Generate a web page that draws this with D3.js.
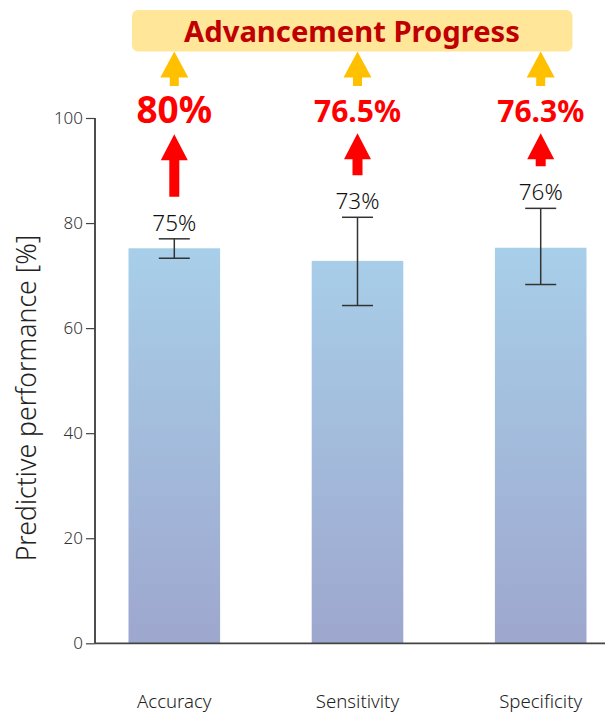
<!DOCTYPE html>
<html>
<head>
<meta charset="utf-8">
<script src="https://cdn.jsdelivr.net/npm/d3@7"></script>
<style>
  html, body { margin: 0; padding: 0; background: #fff; }
  svg { display: block; font-family: "Noto Sans", "Open Sans", sans-serif; }
</style>
</head>
<body>
<svg id="chart" width="605" height="713"></svg>
<script>
const categories = ["Accuracy", "Sensitivity", "Specificity"];
const values = [75.2, 72.8, 75.3];
const errLow = [73.3, 64.3, 68.3];
const errHigh = [77.0, 81.1, 82.8];
const barLabels = ["75%", "73%", "76%"];
const targetLabels = ["80%", "76.5%", "76.3%"];
const yTicks = [0, 20, 40, 60, 80, 100];
const bannerTitle = "Advancement Progress";
const yTitle = "Predictive performance [%]";

const LIGHT = 300;
const svg = d3.select("#chart");
const y = d3.scaleLinear().domain([0, 100]).range([643.3, 118]);
const x = d3.scaleBand().domain(categories).range([82.7, 632.3]).paddingInner(0.5).paddingOuter(0.25);

// gradient
const defs = svg.append("defs");
const grad = defs.append("linearGradient").attr("id", "barGrad")
  .attr("gradientUnits", "userSpaceOnUse")
  .attr("x1", 0).attr("x2", 0).attr("y1", y(100)).attr("y2", y(0));
grad.append("stop").attr("offset", "0%").attr("stop-color", "#abdcf2");
grad.append("stop").attr("offset", "100%").attr("stop-color", "#9ea7ce");

// bars
svg.selectAll("rect.bar").data(categories).join("rect")
  .attr("class", "bar")
  .attr("x", d => x(d))
  .attr("width", x.bandwidth())
  .attr("y", (d, i) => y(values[i]))
  .attr("height", (d, i) => y(0) - y(values[i]))
  .attr("fill", "url(#barGrad)");

// y axis
const yAxis = svg.append("g").attr("transform", `translate(95,0)`)
  .call(d3.axisLeft(y).tickValues(yTicks).tickSize(9).tickPadding(3));
yAxis.select(".domain").attr("stroke", "#222").attr("stroke-width", 1.6).attr("d", `M-0,${y(100)}V${y(0)}`);
yAxis.selectAll(".tick line").attr("stroke", "#444").attr("stroke-width", 1.2);
yAxis.selectAll(".tick text").attr("fill", "#333")
  .style("font-size", "17px").style("font-family", "'Noto Sans', sans-serif").style("font-weight", LIGHT);

// x axis baseline
svg.append("line").attr("x1", 95).attr("x2", 605).attr("y1", y(0)).attr("y2", y(0))
  .attr("stroke", "#444").attr("stroke-width", 1.8);

// x labels
svg.selectAll("text.xl").data(categories).join("text")
  .attr("class", "xl")
  .attr("x", d => x(d) + x.bandwidth() / 2)
  .attr("y", 707.5)
  .attr("text-anchor", "middle")
  .attr("fill", "#222")
  .style("font-size", "18.6px")
  .style("font-weight", LIGHT)
  .text(d => d);

// y title
svg.append("text")
  .attr("transform", `translate(36,398) rotate(-90)`)
  .attr("text-anchor", "middle")
  .attr("fill", "#222")
  .style("font-size", "26.6px")
  .style("font-weight", LIGHT)
  .text(yTitle);

// error bars
const eb = svg.selectAll("g.eb").data(categories).join("g").attr("class", "eb")
  .attr("transform", d => `translate(${x(d) + x.bandwidth() / 2},0)`);
eb.append("line").attr("y1", (d, i) => y(errLow[i])).attr("y2", (d, i) => y(errHigh[i]))
  .attr("stroke", "#333").attr("stroke-width", 1.5);
eb.append("line").attr("x1", -15.5).attr("x2", 15.5).attr("y1", (d, i) => y(errLow[i])).attr("y2", (d, i) => y(errLow[i]))
  .attr("stroke", "#333").attr("stroke-width", 1.5);
eb.append("line").attr("x1", -15.5).attr("x2", 15.5).attr("y1", (d, i) => y(errHigh[i])).attr("y2", (d, i) => y(errHigh[i]))
  .attr("stroke", "#333").attr("stroke-width", 1.5);

// bar labels
eb.append("text")
  .attr("y", (d, i) => y(errHigh[i]) - 8)
  .attr("text-anchor", "middle")
  .attr("fill", "#111")
  .style("font-size", "22.5px")
  .style("font-weight", LIGHT)
  .text((d, i) => barLabels[i]);

// up arrows
function arrowPath(top, bottom, headW, headH, shaftW) {
  return `M0,${top} L${headW / 2},${top + headH} L${shaftW / 2},${top + headH} L${shaftW / 2},${bottom} L${-shaftW / 2},${bottom} L${-shaftW / 2},${top + headH} L${-headW / 2},${top + headH} Z`;
}
const targetBaseline = [122.7, 121.7, 121.7];
const targetSize = [37, 30, 30];

// red arrows: from above bar label up to target label
eb.append("path")
  .attr("d", (d, i) => arrowPath(targetBaseline[i] + 11.5, y(errHigh[i]) - 8 - 34, 27, 26, 10))
  .attr("fill", "#ff0000");

// target labels
eb.append("text")
  .attr("y", (d, i) => targetBaseline[i])
  .attr("text-anchor", "middle")
  .attr("fill", "#ff0000")
  .style("font-size", (d, i) => targetSize[i] + "px")
  .style("font-weight", "bold")
  .text((d, i) => targetLabels[i]);

// yellow arrows
eb.append("path")
  .attr("d", arrowPath(51.5, 86, 28, 26, 9))
  .attr("fill", "#ffc000");

// banner
svg.append("rect")
  .attr("x", 132).attr("y", 10).attr("width", 440.5).attr("height", 41.5)
  .attr("rx", 6).attr("ry", 6)
  .attr("fill", "#ffe699");
svg.append("text")
  .attr("x", 352).attr("y", 41.7)
  .attr("text-anchor", "middle")
  .attr("fill", "#c00000")
  .style("font-size", "29.2px")
  .style("font-weight", "bold")
  .text(bannerTitle);
</script>
</body>
</html>
